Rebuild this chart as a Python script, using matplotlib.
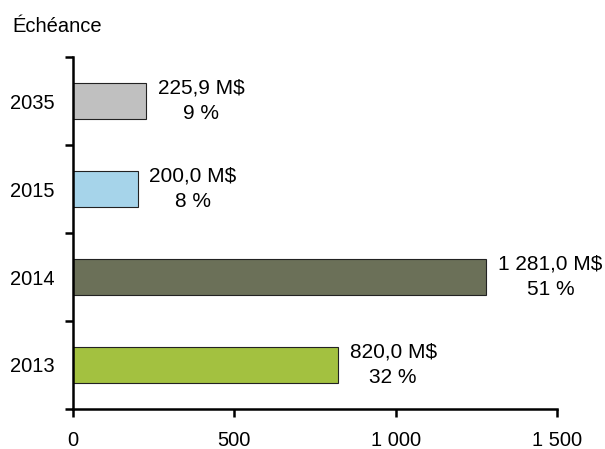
import matplotlib.pyplot as plt
import numpy as np

plt.rcParams['font.family'] = ['Liberation Sans', 'DejaVu Sans']

### données
categories = ['2013', '2014', '2015', '2035']
montants = [820.0, 1281.0, 200.0, 225.9]          # en M$
parts = [32, 51, 8, 9]                             # en %
couleurs = ['#A3C140', '#6B7058', '#A6D4EA', '#C0C0C0']
xticks = [0, 500, 1000, 1500]
xtick_labels = ['0', '500', '1 000', '1 500']


def fmt(v):
    s = '{:,.1f}'.format(v)
    return s.replace(',', ' ').replace('.', ',')


fig = plt.figure(figsize=(6.05, 4.49), dpi=100)
ax = fig.add_axes([73 / 605, 1 - 409 / 449, (557 - 73) / 605, (409 - 57) / 449])

y = np.arange(len(categories))
ax.barh(y, montants, height=0.4, color=couleurs, edgecolor='#222222', linewidth=0.8)

# étiquettes des barres : montant et part
for yi, v, p in zip(y, montants, parts):
    ax.text(v + 37, yi, fmt(v) + ' M$\n' + str(p) + ' %',
            va='center', ha='left', fontsize=15, multialignment='center',
            linespacing=1.45)

ax.set_xlim(0, 1500)
ax.set_ylim(-0.5, len(categories) - 0.5)
ax.set_xticks(xticks)
ax.set_xticklabels(xtick_labels, fontsize=14.5)
ax.set_yticks(y)
ax.set_yticklabels(categories, fontsize=14.5)
ax.set_yticks(np.arange(-0.5, len(categories)), minor=True)

ax.tick_params(axis='y', which='major', length=0, pad=13)
ax.tick_params(axis='y', which='minor', length=6, width=1.8, direction='out')
ax.tick_params(axis='x', which='major', length=6, width=1.8, direction='out', pad=10)

for s in ['top', 'right']:
    ax.spines[s].set_visible(False)
for s in ['left', 'bottom']:
    ax.spines[s].set_linewidth(1.8)

fig.text(12 / 605, 1 - 27 / 449, 'Échéance', fontsize=14.5, va='center', ha='left')

fig.savefig('out.png', dpi=100)
